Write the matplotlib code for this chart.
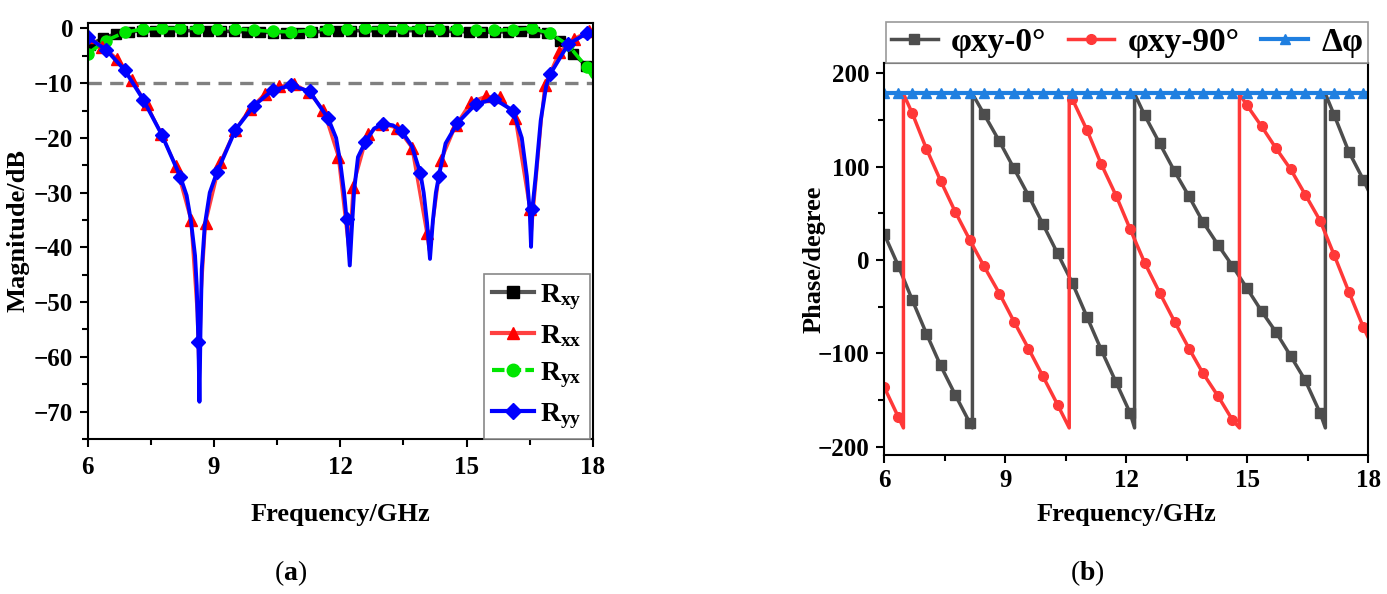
import matplotlib
matplotlib.use('Agg')
import matplotlib.pyplot as plt
from matplotlib.lines import Line2D

plt.rcParams['font.family'] = ['Liberation Serif', 'DejaVu Serif']
plt.rcParams['font.weight'] = 'bold'
plt.rcParams['mathtext.fontset'] = 'custom'
plt.rcParams['mathtext.rm'] = 'Liberation Serif'
plt.rcParams['mathtext.bf'] = 'Liberation Serif:bold'
plt.rcParams['mathtext.it'] = 'Liberation Serif:italic'

# ---------------- (a) magnitude data ----------------
# Ryy (blue) marker points
ryy_mf = [6.00, 6.44, 6.88, 7.32, 7.76, 8.20, 8.63, 9.07, 9.51, 9.95, 10.39, 10.83, 11.27, 11.71,
          12.15, 12.59, 13.02, 13.46, 13.90, 14.34, 14.78, 15.22, 15.66, 16.10, 16.56, 16.98, 17.41, 17.85]
ryy_mv = [-1.6, -3.9, -7.6, -13.0, -19.4, -27.1, -57.3, -26.3, -18.5, -14.1, -11.3, -10.4, -11.5, -16.4,
          -34.9, -20.8, -17.4, -18.8, -26.4, -27.0, -17.3, -13.8, -12.9, -15.0, -33.0, -8.4, -2.9, -0.9]
# Ryy extra curve points (shape of the resonance dips)
ryy_xf = [8.35, 8.45, 8.55, 8.59, 8.655, 8.68, 8.71, 8.78, 8.90,
          11.90, 12.00, 12.09, 12.225, 12.27, 12.33, 12.42, 12.80, 13.25,
          13.70, 13.98, 14.06, 14.13, 14.20, 14.27, 14.50,
          16.31, 16.43, 16.50, 16.53, 16.64, 16.76, 16.89, 18.0]
ryy_xv = [-30.5, -35.0, -41.5, -47.0, -68.2, -55.0, -44.0, -36.0, -30.0,
          -20.0, -24.5, -30.0, -43.3, -37.0, -29.5, -23.5, -18.3, -17.7,
          -21.5, -30.0, -35.5, -42.1, -35.0, -30.0, -21.0,
          -20.0, -27.0, -33.5, -39.9, -27.0, -16.8, -10.5, -0.6]

# Rxx (red) marker points
rxx_mf = [6.00, 6.35, 6.70, 7.05, 7.40, 7.75, 8.10, 8.45, 8.80, 9.15, 9.50, 9.85, 10.20, 10.55, 10.90,
          11.25, 11.60, 11.95, 12.30, 12.65, 13.00, 13.35, 13.70, 14.05, 14.40, 14.75, 15.10, 15.45,
          15.80, 16.15, 16.50, 16.85, 17.20, 17.55, 17.90]
rxx_mv = [-1.5, -3.3, -5.5, -9.4, -13.8, -19.3, -25.2, -35.0, -35.6, -24.4, -18.6, -14.7, -12.0, -10.6, -10.1,
          -11.6, -14.9, -23.4, -29.0, -19.3, -17.5, -18.2, -21.8, -37.3, -24.0, -17.6, -13.4, -12.4,
          -12.6, -16.3, -33.0, -10.4, -4.3, -1.9, -0.4]
rxx_xf = [8.60, 8.65, 8.70, 12.21, 14.11, 16.53, 18.0]
rxx_xv = [-52.0, -65.0, -48.0, -41.0, -40.5, -38.0, -0.3]

# Ryx (green, dashed)
ryx_mf = ryy_mf
ryx_mv = [-4.6, -2.2, -0.7, -0.1, 0.0, 0.0, 0.0, -0.05, -0.1, -0.3, -0.55, -0.6, -0.4, -0.1,
          -0.05, 0.0, 0.0, 0.0, 0.0, -0.05, -0.15, -0.3, -0.35, -0.2, 0.0, -0.9, -3.0, -7.1]
ryx_xf = [18.0]
ryx_xv = [-9.0]

# Rxy (black)
rxy_mf = [6.06, 6.37, 6.68, 6.99, 7.30, 7.61, 7.92, 8.23, 8.54, 8.85, 9.16, 9.47, 9.78, 10.09, 10.40,
          10.71, 11.02, 11.33, 11.64, 11.95, 12.26, 12.57, 12.88, 13.19, 13.50, 13.81, 14.12, 14.43,
          14.74, 15.05, 15.36, 15.67, 15.98, 16.29, 16.60, 16.91, 17.22, 17.53, 17.84]
rxy_mv = [-3.0, -1.7, -1.0, -0.6, -0.45, -0.4, -0.4, -0.4, -0.4, -0.45, -0.5, -0.55, -0.6, -0.7, -0.75,
          -0.8, -0.75, -0.65, -0.5, -0.45, -0.4, -0.4, -0.4, -0.4, -0.4, -0.4, -0.45, -0.5,
          -0.55, -0.6, -0.65, -0.65, -0.6, -0.55, -0.6, -0.9, -2.2, -4.6, -6.8]
rxy_xf = [6.0, 18.0]
rxy_xv = [-3.5, -8.0]

# ---------------- (b) phase data ----------------
ph_mf = [6.00, 6.35, 6.70, 7.05, 7.40, 7.77, 8.13, 8.48, 8.86, 9.22, 9.58, 9.93, 10.30, 10.67, 11.03,
         11.38, 11.75, 12.10, 12.46, 12.83, 13.20, 13.56, 13.90, 14.28, 14.63, 14.99, 15.36, 15.71,
         16.08, 16.44, 16.81, 17.16, 17.52, 17.88]
ph0_v = [28, -6, -43, -79, -113, -145, -175, 156, 127, 98, 69, 39, 7, -25, -61,
         -96, -131, -164, 155, 125, 95, 68, 41, 16, -6, -30, -55, -77,
         -103, -129, -164, 155, 116, 86]
ph0_jumps = [8.19, 12.21, 16.94]
ph0_end = 75
ph90_v = [-136, -168, 157, 119, 85, 51, 21, -7, -36, -66, -95, -124, -155, 172, 139,
          103, 69, 33, -3, -35, -66, -95, -121, -146, -171, 166, 143, 120,
          97, 70, 42, 5, -34, -72]
ph90_jumps = [6.48, 10.59, 14.81]
ph90_end = -83
dphi_v = [179] * len(ph_mf)


def merged(mf, mv, xf, xv):
    pts = sorted(list(zip(mf, mv)) + list(zip(xf, xv)))
    f = [p[0] for p in pts]
    v = [p[1] for p in pts]
    mk = [i for i, p in enumerate(pts) if p[0] in mf and p[1] == mv[mf.index(p[0])]]
    return f, v, mk


def sawtooth(mf, mv, jumps, end_v):
    f, v, mk = [], [], []
    js = list(jumps)
    for x, y in zip(mf, mv):
        while js and js[0] < x:
            j = js.pop(0)
            f += [j, j]
            v += [-180, 178]
        mk.append(len(f))
        f.append(x)
        v.append(y)
    f.append(18.0)
    v.append(end_v)
    return f, v, mk


fig = plt.figure(figsize=(13.87, 5.94), dpi=100)
ax1 = fig.add_axes([0.0632, 0.261, 0.3643, 0.7003])
ax2 = fig.add_axes([0.6374, 0.234, 0.349, 0.660])

# ---- panel (a)
f, v, mk = merged(rxy_mf, rxy_mv, rxy_xf, rxy_xv)
ax1.plot(f, v, color='#333333', lw=2.6, marker='s', ms=7, mfc='black', mec='black', markevery=mk)
f, v, mk = merged(ryx_mf, ryx_mv, ryx_xf, ryx_xv)
ax1.plot(f, v, color='#00e600', lw=2.6, ls=(0, (4, 2)), marker='o', ms=8, mfc='#00e600', mec='#00e600',
         markevery=mk)
f, v, mk = merged(rxx_mf, rxx_mv, rxx_xf, rxx_xv)
ax1.plot(f, v, color='#ff4040', lw=2.2, marker='^', ms=8, mfc='red', mec='red', markevery=mk)
f, v, mk = merged(ryy_mf, ryy_mv, ryy_xf, ryy_xv)
ax1.plot(f, v, color='#0000ff', lw=2.8, marker='D', ms=7, mfc='#0000ff', mec='#0000ff', markevery=mk)
ax1.axhline(-10, color='#808080', lw=2.4, ls=(0, (4, 2.5)), zorder=1)

ax1.set_xlim(6, 18)
ax1.set_ylim(-75, 1)
ax1.set_xticks([6, 9, 12, 15, 18])
ax1.set_xticks([7.5, 10.5, 13.5, 16.5], minor=True)
ax1.set_yticks([0, -10, -20, -30, -40, -50, -60, -70])
ax1.set_yticks([-5, -15, -25, -35, -45, -55, -65, -75], minor=True)
ax1.set_xlabel('Frequency/GHz', fontsize=19, fontweight='bold')
ax1.set_ylabel('Magnitude/dB', fontsize=19, fontweight='bold')
ax1.xaxis.set_label_coords(0.5, -0.153)
ax1.yaxis.set_label_coords(-0.116, 0.5)

hl = [Line2D([], [], color='#555555', lw=3, marker='s', ms=8, mfc='black', mec='black'),
      Line2D([], [], color='#ff4040', lw=3, marker='^', ms=9, mfc='red', mec='red'),
      Line2D([], [], color='#00e600', lw=3, ls=(0, (3, 1)), marker='o', ms=9, mfc='#00e600', mec='#00e600'),
      Line2D([], [], color='#0000ff', lw=3, marker='D', ms=8, mfc='#0000ff', mec='#0000ff')]
lab = [r'R$_{\mathbf{xy}}$', r'R$_{\mathbf{xx}}$', r'R$_{\mathbf{yx}}$', r'R$_{\mathbf{yy}}$']
leg = ax1.legend(hl, lab, loc='lower right', bbox_to_anchor=(0.995, 0), borderaxespad=0, fontsize=20,
                 handlelength=1.5, handletextpad=0.25, labelspacing=0.4, borderpad=0.3,
                 fancybox=False, edgecolor='#888888', framealpha=1)
leg.get_frame().set_linewidth(1.2)

# ---- panel (b)
f, v, mk = sawtooth(ph_mf, ph0_v, ph0_jumps, ph0_end)
ax2.plot(f, v, color='#4d4d4d', lw=2.5, marker='s', ms=7, markevery=mk, label='φxy-0°')
f, v, mk = sawtooth(ph_mf, ph90_v, ph90_jumps, ph90_end)
ax2.plot(f, v, color='#ff3838', lw=2.5, marker='o', ms=7, markevery=mk, label='φxy-90°')
ax2.plot(ph_mf + [18.0], dphi_v + [179], color='#1f7fe0', lw=3, marker='^', ms=7,
         markevery=list(range(len(ph_mf))), label='Δφ')

ax2.set_xlim(6, 18)
ax2.set_ylim(-209, 211)
ax2.set_xticks([6, 9, 12, 15, 18])
ax2.set_xticks([7.5, 10.5, 13.5, 16.5], minor=True)
ax2.set_yticks([200, 100, 0, -100, -200])
ax2.set_yticks([150, 50, -50, -150], minor=True)
ax2.set_xlabel('Frequency/GHz', fontsize=19, fontweight='bold')
ax2.set_ylabel('Phase/degree', fontsize=19, fontweight='bold')
ax2.xaxis.set_label_coords(0.5, -0.122)
ax2.yaxis.set_label_coords(-0.12, 0.5)
leg2 = ax2.legend(loc='lower left', bbox_to_anchor=(0.004, 1.0, 0.996, 0.13), mode='expand', ncol=3,
                  borderaxespad=0, fontsize=24, handlelength=1.4, handletextpad=0.4, borderpad=0.15,
                  fancybox=False, edgecolor='#999999', framealpha=1)
leg2.get_frame().set_linewidth(1.2)

for ax, xpad in ((ax1, 6), (ax2, 4)):
    for s in ax.spines.values():
        s.set_linewidth(1.5)
    ax.tick_params(which='both', direction='out', width=1.5, labelsize=18, top=False, right=False)
    ax.tick_params(which='major', length=6)
    ax.tick_params(which='minor', length=4)
    ax.tick_params(axis='y', pad=4.5)
    ax.tick_params(axis='x', pad=xpad)
    for t in ax.get_xticklabels() + ax.get_yticklabels():
        t.set_fontweight('bold')

fig.text(291 / 1387, 1 - 573 / 594, r'($\mathbf{a}$)', ha='center', va='center', fontsize=20,
         fontweight='normal')
fig.text(1087 / 1387, 1 - 573 / 594, r'($\mathbf{b}$)', ha='center', va='center', fontsize=20,
         fontweight='normal')

fig.savefig('out.png', dpi=100)
